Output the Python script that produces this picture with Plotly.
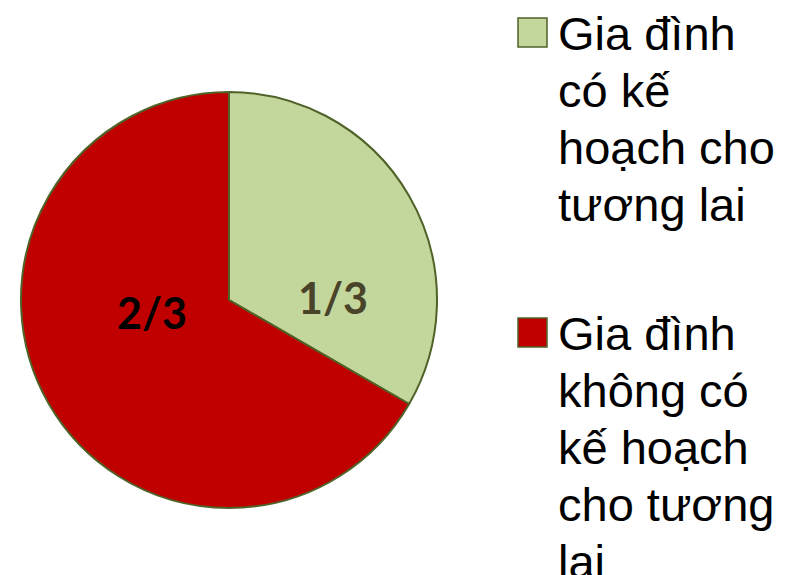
import textwrap
import plotly.graph_objects as go

# ---- data ----
categories = ["Gia đình có kế hoạch cho tương lai",
              "Gia đình không có kế hoạch cho tương lai"]
values = [1, 2]
slice_text = ["1/3", "2/3"]
colors = ["#C3D69B", "#C00000"]
text_colors = ["#494429", "#000000"]
border_color = "#4F6228"

W, H = 792, 575
cx, cy, R = 229, 300, 208          # pie centre / radius in px (layout)
label_offsets = [(104, -3), (-77, 12)]   # data-label placement (style)

fig = go.Figure()
fig.add_trace(go.Pie(
    labels=categories,
    values=values,
    textinfo="none",
    marker=dict(colors=colors, line=dict(color=border_color, width=2)),
    sort=False,
    direction="clockwise",
    rotation=0,
    showlegend=False,
    hoverinfo="label+percent",
    domain=dict(x=[(cx - R) / W, (cx + R) / W], y=[1 - (cy + R) / H, 1 - (cy - R) / H]),
))

annotations = []
# slice data labels
for t, tc, (dx, dy) in zip(slice_text, text_colors, label_offsets):
    annotations.append(dict(
        text="<b>%s</b>" % t, xref="paper", yref="paper",
        x=(cx + dx) / W, y=1 - (cy + dy) / H,
        xanchor="center", yanchor="middle", showarrow=False,
        font=dict(family="Lato", size=43, color=tc),
    ))

# ---- manual legend (large swatches, wrapped text) ----
shapes = []
item_tops = [18, 318]
line_h = 57
for i, (cat, col) in enumerate(zip(categories, colors)):
    top = item_tops[i]
    shapes.append(dict(type="rect", xref="paper", yref="paper",
                       x0=518 / W, x1=547 / W,
                       y0=1 - (top + 29) / H, y1=1 - top / H,
                       fillcolor=col, line=dict(color=border_color, width=1.5)))
    lines = textwrap.wrap(cat, width=9)
    for j, ln in enumerate(lines):
        baseline = top + 33 + j * line_h
        annotations.append(dict(
            text=ln, xref="paper", yref="paper",
            x=556 / W, y=1 - (baseline + 11) / H,
            xanchor="left", yanchor="bottom", showarrow=False,
            font=dict(family="Liberation Sans, Arial", size=47, color="black"),
        ))

fig.update_layout(
    width=W, height=H,
    margin=dict(l=0, r=0, t=0, b=0),
    paper_bgcolor="white",
    plot_bgcolor="white",
    shapes=shapes,
    annotations=annotations,
)

fig.write_html("out.html")
